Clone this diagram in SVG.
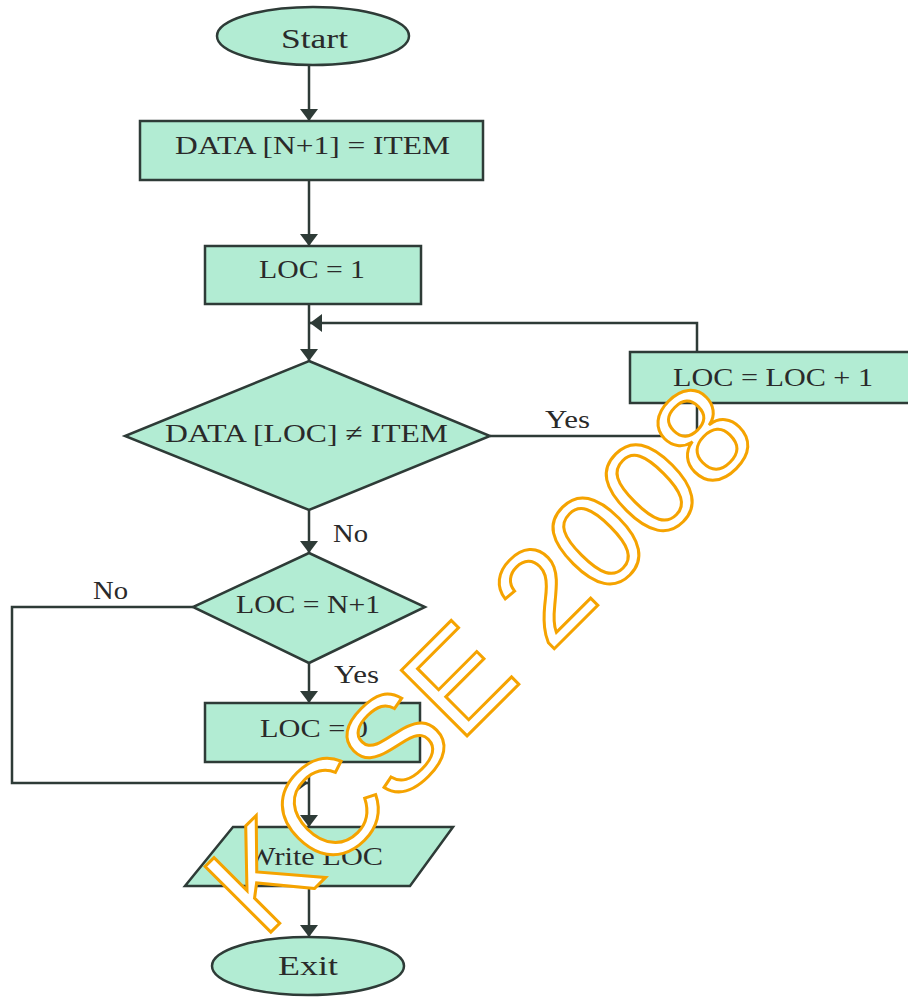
<svg xmlns="http://www.w3.org/2000/svg" width="908" height="998" viewBox="0 0 908 998">
<defs>
<marker id="arr" viewBox="0 0 12 20" refX="12" refY="10" markerWidth="12" markerHeight="20" markerUnits="userSpaceOnUse" orient="auto">
<path d="M0,1 L12,10 L0,19 Z" fill="#2e3b37"/>
</marker>
<style>
.n{fill:#b2ecd3;stroke:#2e3b37;stroke-width:2.5}
.t{font-family:"Liberation Serif","Times New Roman",serif;font-size:26px;fill:#2a2a2a}
.big{font-size:28px}
.c{fill:none;stroke:#2e3b37;stroke-width:2.5}
.wm{font-family:"Liberation Sans",Arial,sans-serif;font-size:135px;fill:#ffffff;stroke:#f5a300;stroke-width:3}
</style>
</defs>
<rect width="908" height="998" fill="#ffffff"/>
<g id="connectors">
<path class="c" d="M309,64 L309,121" marker-end="url(#arr)"/>
<path class="c" d="M309,180 L309,246" marker-end="url(#arr)"/>
<path class="c" d="M309,304 L309,361" marker-end="url(#arr)"/>
<path class="c" d="M697,352 L697,323 L310,323" marker-end="url(#arr)"/>
<path class="c" d="M490,436 L697,436 L697,403"/>
<path class="c" d="M309,510 L309,553" marker-end="url(#arr)"/>
<path class="c" d="M193,607 L12,607 L12,783 L308,783" marker-end="url(#arr)"/>
<path class="c" d="M309,663 L309,703" marker-end="url(#arr)"/>
<path class="c" d="M309,762 L309,827" marker-end="url(#arr)"/>
<path class="c" d="M309,886 L309,937" marker-end="url(#arr)"/>
<text class="t" x="545" y="428" textLength="45" lengthAdjust="spacingAndGlyphs">Yes</text>
<text class="t" x="333" y="542" textLength="35" lengthAdjust="spacingAndGlyphs">No</text>
<text class="t" x="93" y="599" textLength="35" lengthAdjust="spacingAndGlyphs">No</text>
<text class="t" x="334" y="683" textLength="45" lengthAdjust="spacingAndGlyphs">Yes</text>
</g>
<g id="start">
<ellipse class="n" cx="313" cy="36" rx="96" ry="29"/>
<text class="t big" x="281" y="48" textLength="67" lengthAdjust="spacingAndGlyphs">Start</text>
</g>
<g id="init">
<rect class="n" x="140" y="121" width="343" height="59"/>
<text class="t" x="175" y="154" textLength="275" lengthAdjust="spacingAndGlyphs">DATA [N+1] = ITEM</text>
</g>
<g id="loc1">
<rect class="n" x="205" y="246" width="216" height="58"/>
<text class="t" x="259" y="278" textLength="106" lengthAdjust="spacingAndGlyphs">LOC = 1</text>
</g>
<g id="check">
<polygon class="n" points="309,361 490,436 309,510 125,436"/>
<text class="t" x="165" y="442" textLength="283" lengthAdjust="spacingAndGlyphs">DATA [LOC] ≠ ITEM</text>
</g>
<g id="inc">
<rect class="n" x="630" y="352" width="290" height="51"/>
<text class="t" x="673" y="386" textLength="200" lengthAdjust="spacingAndGlyphs">LOC = LOC + 1</text>
</g>
<g id="check2">
<polygon class="n" points="309,553 425,607 309,663 193,607"/>
<text class="t" x="236" y="613" textLength="144" lengthAdjust="spacingAndGlyphs">LOC = N+1</text>
</g>
<g id="loc0">
<rect class="n" x="205" y="703" width="215" height="59"/>
<text class="t" x="260" y="737" textLength="108" lengthAdjust="spacingAndGlyphs">LOC = 0</text>
</g>
<g id="write">
<polygon class="n" points="233,827 453,827 410,886 185,886"/>
<text class="t" x="247" y="865" textLength="136" lengthAdjust="spacingAndGlyphs">Write LOC</text>
</g>
<g id="exit">
<ellipse class="n" cx="308" cy="966" rx="96" ry="29"/>
<text class="t big" x="278" y="975" textLength="60" lengthAdjust="spacingAndGlyphs">Exit</text>
</g>
<g id="watermark">
<text class="wm" transform="translate(263,940) rotate(-45)" x="0" y="0">KCSE 2008</text>
</g>
</svg>
